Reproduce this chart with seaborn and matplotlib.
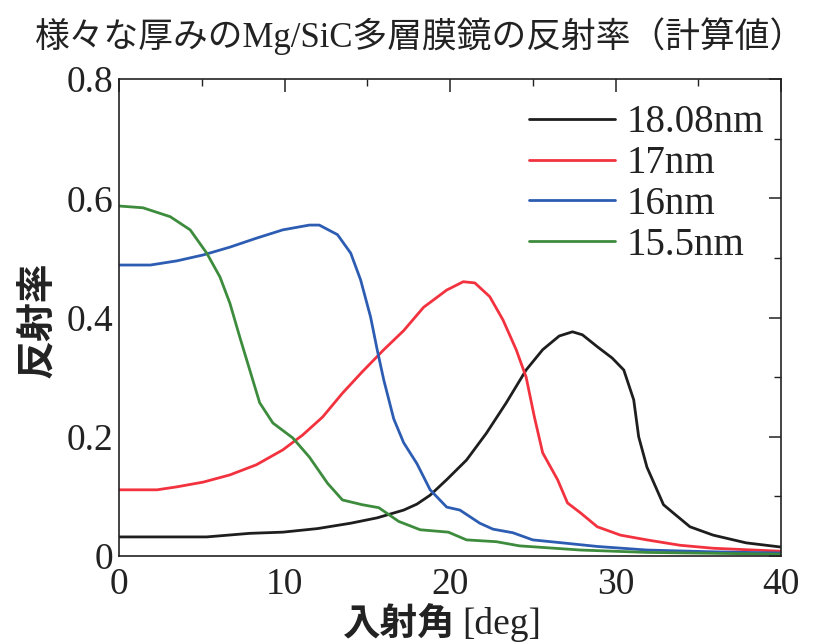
import matplotlib
matplotlib.use("Agg")
import matplotlib.pyplot as plt
import seaborn as sns
import pandas as pd
from matplotlib.ticker import MultipleLocator, FixedLocator, FixedFormatter

# ---------------- data ----------------
labels = ["18.08nm", "17nm", "16nm", "15.5nm"]
colors = ["#1e1e1e", "#f2323e", "#2d5db2", "#3d8c3d"]

angle_1808 = [0, 5.3, 7.9, 9.9, 12.0, 14.0, 15.6, 17.2, 18.0, 18.8, 19.8, 21.0, 22.2, 23.4,
              24.6, 25.6, 26.6, 27.4, 28.0, 28.9, 29.8, 30.5, 31.1, 31.4, 31.9, 32.9, 33.5,
              34.5, 35.9, 37.9, 40]
refl_1808 = [0.032, 0.032, 0.038, 0.040, 0.046, 0.055, 0.064, 0.077, 0.087, 0.102, 0.128,
             0.161, 0.206, 0.257, 0.312, 0.346, 0.369, 0.376, 0.371, 0.351, 0.332, 0.312,
             0.262, 0.200, 0.149, 0.086, 0.072, 0.049, 0.035, 0.022, 0.015]

angle_17 = [0, 2.3, 3.5, 5.1, 6.7, 8.3, 9.9, 11.1, 12.3, 13.5, 14.7, 16.0, 17.2, 18.4, 19.8,
            20.8, 21.5, 22.4, 23.2, 24.0, 24.6, 25.1, 25.6, 26.5, 27.1, 27.9, 28.9, 30.3,
            31.9, 33.9, 35.9, 40]
refl_17 = [0.111, 0.111, 0.116, 0.124, 0.136, 0.153, 0.178, 0.203, 0.233, 0.273, 0.309, 0.346,
           0.378, 0.417, 0.446, 0.460, 0.458, 0.435, 0.396, 0.346, 0.300, 0.233, 0.173, 0.128,
           0.089, 0.072, 0.049, 0.035, 0.027, 0.018, 0.013, 0.008]

angle_16 = [0, 1.9, 3.5, 5.1, 6.7, 8.3, 9.9, 11.5, 12.1, 13.2, 14.0, 14.6, 15.2, 15.6, 16.0,
            16.6, 17.2, 18.0, 18.8, 19.8, 20.6, 21.8, 22.6, 23.8, 25.0, 26.8, 28.9, 31.9,
            35.9, 40]
refl_16 = [0.488, 0.488, 0.495, 0.505, 0.518, 0.533, 0.547, 0.555, 0.555, 0.539, 0.508, 0.463,
           0.401, 0.346, 0.295, 0.230, 0.190, 0.155, 0.111, 0.082, 0.077, 0.055, 0.045, 0.039,
           0.027, 0.022, 0.016, 0.010, 0.007, 0.005]

angle_155 = [0, 1.45, 3.1, 4.3, 5.3, 6.1, 6.7, 7.3, 7.9, 8.5, 9.3, 10.5, 11.5, 12.6, 13.5,
             14.7, 15.7, 16.9, 18.2, 19.9, 21.0, 22.8, 24.2, 27.9, 31.9, 40]
refl_155 = [0.587, 0.584, 0.569, 0.547, 0.508, 0.468, 0.424, 0.367, 0.312, 0.257, 0.223,
            0.198, 0.166, 0.122, 0.094, 0.086, 0.081, 0.058, 0.044, 0.040, 0.027, 0.024,
            0.017, 0.010, 0.006, 0.003]

x_ticks = [0, 10, 20, 30, 40]
x_tick_labels = ["0", "10", "20", "30", "40"]
y_ticks = [0, 0.2, 0.4, 0.6, 0.8]
y_tick_labels = ["0", "0.2", "0.4", "0.6", "0.8"]

title = "様々な厚みのMg/SiC多層膜鏡の反射率（計算値）"
ylabel = "反射率"
xlabel_jp = "入射角"
xlabel_unit = "[deg]"

# ---------------- build table ----------------
frames = []
for lab, a, r in [(labels[0], angle_1808, refl_1808), (labels[1], angle_17, refl_17),
                  (labels[2], angle_16, refl_16), (labels[3], angle_155, refl_155)]:
    frames.append(pd.DataFrame({"angle": a, "refl": r, "thickness": lab}))
df = pd.concat(frames, ignore_index=True)

# ---------------- plot ----------------
sns.set_theme(style="white")
plt.rcParams["font.family"] = ["Liberation Serif", "Noto Sans CJK JP", "DejaVu Sans"]
plt.rcParams["axes.linewidth"] = 1.2

fig = plt.figure(figsize=(8.17, 6.42), dpi=100)
ax = fig.add_axes([119 / 817, 1 - 556 / 642, (781 - 119) / 817, (556 - 79) / 642])

sns.lineplot(data=df, x="angle", y="refl", hue="thickness", hue_order=labels,
             palette=dict(zip(labels, colors)), linewidth=2.0, sort=False,
             estimator=None, ax=ax)

ax.set_xlim(0, 40)
ax.set_ylim(0, 0.8)
ax.xaxis.set_major_locator(FixedLocator(x_ticks))
ax.xaxis.set_major_formatter(FixedFormatter(x_tick_labels))
ax.yaxis.set_major_locator(FixedLocator(y_ticks))
ax.yaxis.set_major_formatter(FixedFormatter(y_tick_labels))
ax.xaxis.set_minor_locator(MultipleLocator(5))
ax.yaxis.set_minor_locator(MultipleLocator(0.1))
ax.tick_params(which="both", direction="in", top=True, right=True, color="#222222")
ax.tick_params(which="major", length=9, width=1.1, labelsize=27, colors="#222222")
ax.tick_params(which="minor", length=5, width=1.0)
ax.tick_params(axis="x", which="major", pad=8)
ax.tick_params(axis="y", which="major", pad=4)
for s in ax.spines.values():
    s.set_color("#222222")
    s.set_visible(True)

ax.set_xlabel("")
ax.set_ylabel("")

handles, labs = ax.get_legend_handles_labels()
leg = ax.legend(handles, labs, loc="upper right", frameon=False,
                bbox_to_anchor=(1 + 8 / 662, 1.0),
                prop={"family": "Liberation Serif", "size": 28},
                handlelength=2.2, handletextpad=0.3, labelspacing=0.1,
                borderaxespad=0.45, borderpad=0.2)
for t in leg.get_texts():
    t.set_color("#222222")
for h in leg.get_lines():
    h.set_linewidth(2.0)

fig.text(0.5 * (30 + 810) / 817, 1 - 36 / 642, title, ha="center", va="center",
         fontsize=25, color="#222222")
fig.text(37 / 817, 1 - 320 / 642, ylabel, rotation=90, ha="center", va="center",
         fontsize=28, fontweight="bold", family=["Noto Sans CJK JP"], color="#222222")
fig.text(455 / 817, 1 - 624 / 642, xlabel_jp, ha="right", va="center",
         fontsize=27, fontweight="bold", family=["Noto Sans CJK JP"], color="#222222")
fig.text(462 / 817, 1 - 624 / 642, xlabel_unit, ha="left", va="center",
         fontsize=27, family=["Liberation Serif"], color="#222222")

fig.savefig("out.png", dpi=100, facecolor="white")
